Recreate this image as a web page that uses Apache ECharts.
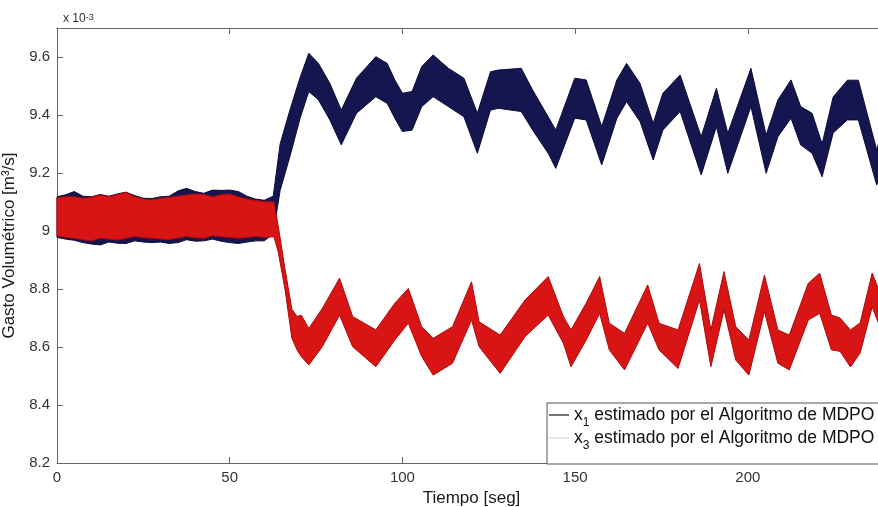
<!DOCTYPE html>
<html>
<head>
<meta charset="utf-8">
<script src="https://cdn.jsdelivr.net/npm/echarts@6/dist/echarts.min.js"></script>
<style>html,body{margin:0;padding:0;background:#fff}#c{width:878px;height:507px}</style>
</head>
<body>
<div id="c"></div>
<script>
// ---- data (values in units of 1e-3 m^3/s, time in seconds) ----
const xTicks = [0, 50, 100, 150, 200];
const yTicks = [8.2, 8.4, 8.6, 8.8, 9.0, 9.2, 9.4, 9.6];

// x1 (blue) band: upper and lower envelope
const x1Time = [0,2.5,5,7.5,10,12.5,15,17.5,20,22.5,25,27.5,30,32.5,35,37.5,40,42.5,45,47.5,50,52.5,55,57.5,60,
  62.6,64.6,67.5,70.4,72.9,75.7,79.0,82.3,86.7,92.3,95.6,97.8,100.0,102.8,105.6,108.9,113.3,117.8,121.7,125.5,127.8,
  134.4,137.7,142.2,144.4,149.9,153.2,157.7,162.1,164.9,168.8,172.6,175.4,180.4,186.5,190.9,194.2,200.9,205.3,208.7,
  212.5,215.3,218.6,221.5,224.7,228.8,232.0,237.3,237.8];
const x1Upper = [9.118,9.125,9.136,9.120,9.118,9.126,9.120,9.128,9.134,9.122,9.113,9.112,9.118,9.120,9.138,9.147,9.136,9.130,9.141,9.140,9.141,9.136,9.120,9.110,9.106,
  9.12,9.30,9.42,9.53,9.613,9.578,9.509,9.417,9.527,9.601,9.578,9.521,9.475,9.481,9.567,9.607,9.561,9.527,9.406,9.549,9.555,
  9.561,9.486,9.394,9.348,9.527,9.521,9.360,9.521,9.578,9.509,9.371,9.475,9.538,9.325,9.492,9.337,9.561,9.331,9.452,
  9.521,9.429,9.406,9.30,9.462,9.52,9.52,9.28,9.30];
const x1Lower = [8.978,8.972,8.968,8.960,8.955,8.952,8.962,8.958,8.957,8.966,8.962,8.960,8.962,8.957,8.960,8.970,8.965,8.966,8.972,8.965,8.960,8.957,8.962,8.966,8.966,
  8.99,9.14,9.26,9.39,9.481,9.452,9.383,9.297,9.406,9.463,9.440,9.389,9.343,9.348,9.429,9.463,9.429,9.394,9.268,9.417,9.423,
  9.412,9.348,9.268,9.216,9.389,9.383,9.228,9.389,9.446,9.377,9.245,9.348,9.412,9.193,9.360,9.199,9.429,9.199,9.325,
  9.389,9.297,9.268,9.187,9.338,9.383,9.383,9.159,9.17];

// x3 (red) band: upper and lower envelope
const x3Time = [0,2.5,5,7.5,10,12.5,15,17.5,20,22.5,25,27.5,30,32.5,35,37.5,40,42.5,45,47.5,50,52.5,55,57.5,60,
  62.8,64.0,66.0,68.0,69.5,70.7,72.9,76.8,81.8,85.6,92.3,97.8,101.7,105.6,108.9,114.5,120.0,122.2,128.3,135.5,
  142.2,146.6,148.8,153.2,157.1,159.9,164.3,171.0,174.3,179.8,186.0,189.3,193.1,196.5,200.3,204.8,208.7,212.0,
  217.5,220.8,224.2,226.7,229.7,232.5,236.0,237.8];
const x3Upper = [9.115,9.118,9.118,9.113,9.116,9.124,9.118,9.126,9.133,9.118,9.110,9.107,9.113,9.116,9.120,9.124,9.128,9.126,9.118,9.125,9.128,9.118,9.110,9.105,9.101,
  9.10,9.02,8.87,8.73,8.705,8.710,8.664,8.733,8.837,8.705,8.659,8.751,8.802,8.670,8.630,8.670,8.825,8.687,8.641,8.762,
  8.843,8.705,8.659,8.751,8.843,8.682,8.647,8.814,8.682,8.659,8.888,8.659,8.860,8.670,8.624,8.848,8.659,8.641,
  8.820,8.854,8.71,8.70,8.659,8.683,8.855,8.80];
const x3Lower = [8.984,8.978,8.975,8.970,8.966,8.975,8.972,8.969,8.975,8.981,8.977,8.975,8.972,8.970,8.976,8.981,8.977,8.975,8.984,8.980,8.978,8.975,8.978,8.981,8.978,
  8.98,8.93,8.80,8.63,8.59,8.567,8.538,8.601,8.710,8.601,8.532,8.624,8.682,8.567,8.503,8.544,8.693,8.601,8.509,8.636,
  8.710,8.613,8.532,8.624,8.716,8.590,8.521,8.682,8.590,8.526,8.762,8.532,8.728,8.555,8.503,8.722,8.544,8.521,
  8.693,8.716,8.59,8.585,8.531,8.579,8.738,8.683];

const seriesNames = ['x1', 'x3'];
const legendText = ['estimado por el Algoritmo de MDPO', 'estimado por el Algoritmo de MDPO'];
const subscripts = ['1', '3'];

// ---- chart ----
const FONT = '"Liberation Sans", Arial, Helvetica, sans-serif';
const BLUE = '#15154f', BLUE_EDGE = '#0c0c3c';
const RED = '#d81414', RED_EDGE = '#b00a0a';
const AXIS = '#666666';

// A filled band between lower and upper envelopes, drawn through the axis scales (api.coord).
function bandSeries(name, times, upper, lower, fill, edge, z) {
  const rows = times.map((t, i) => [t, lower[i], upper[i]]);
  return {
    name: name, type: 'custom', coordinateSystem: 'cartesian2d', silent: true, z: z,
    data: rows,
    encode: { x: 0, y: [1, 2] },
    itemStyle: { color: fill },
    renderItem: function (params, api) {
      if (params.dataIndex !== 0) return null;
      const pts = [];
      for (let i = 0; i < rows.length; i++) pts.push(api.coord([rows[i][0], rows[i][2]]));
      for (let i = rows.length - 1; i >= 0; i--) pts.push(api.coord([rows[i][0], rows[i][1]]));
      return {
        type: 'polygon',
        shape: { points: pts },
        style: { fill: fill, stroke: edge, lineWidth: 1, lineJoin: 'round' }
      };
    }
  };
}

const axisCommon = {
  type: 'value',
  axisLine: { show: true, onZero: false, lineStyle: { color: AXIS, width: 1 } },
  splitLine: { show: false }
};

const chart = echarts.init(document.getElementById('c'), null, { renderer: 'canvas' });
chart.setOption({
  backgroundColor: '#ffffff',
  animation: false,
  title: {
    text: 'x 10{sup|-3}', left: 58, top: 8,
    textStyle: { fontSize: 12, fontWeight: 'normal', color: '#333', fontFamily: FONT,
      rich: { sup: { fontSize: 9, verticalAlign: 'top', color: '#333', fontFamily: FONT } } }
  },
  grid: { left: 57, top: 28, right: -8, bottom: 44, containLabel: false, outerBoundsMode: 'none' },
  xAxis: [
    Object.assign({}, axisCommon, {
      min: 0, max: 240, position: 'bottom',
      name: 'Tiempo [seg]', nameLocation: 'middle', nameGap: 22,
      nameTextStyle: { fontSize: 17, color: '#1a1a1a', fontFamily: FONT },
      axisTick: { show: true, inside: true, length: 6, customValues: xTicks, lineStyle: { color: AXIS } },
      axisLabel: { customValues: xTicks, fontSize: 15, color: '#333', margin: 7, fontFamily: FONT }
    }),
    Object.assign({}, axisCommon, {
      min: 0, max: 240, position: 'top',
      axisTick: { show: true, inside: true, length: 6, customValues: xTicks, lineStyle: { color: AXIS } },
      axisLabel: { show: false }
    })
  ],
  yAxis: [
    Object.assign({}, axisCommon, {
      min: 8.2, max: 9.7, position: 'left',
      name: 'Gasto Volumétrico [m³/s]', nameLocation: 'middle', nameGap: 32, nameRotate: 90,
      nameTextStyle: { fontSize: 17, color: '#1a1a1a', fontFamily: FONT },
      axisTick: { show: true, inside: true, length: 6, customValues: yTicks, lineStyle: { color: AXIS } },
      axisLabel: { customValues: yTicks, fontSize: 15, color: '#333', margin: 7, fontFamily: FONT,
        formatter: v => String(parseFloat(Number(v).toFixed(1))) }
    }),
    Object.assign({}, axisCommon, {
      min: 8.2, max: 9.7, position: 'right',
      axisTick: { show: true, inside: true, length: 6, customValues: yTicks, lineStyle: { color: AXIS } },
      axisLabel: { show: false }
    })
  ],
  legend: {
    orient: 'vertical', left: 547, top: 403,
    padding: [3, 14, 12, 2], itemGap: 0,
    backgroundColor: '#ffffff', borderColor: '#555', borderWidth: 1, borderRadius: 0,
    itemWidth: 20, itemHeight: 1.5,
    itemStyle: { borderWidth: 0 },
    data: [
      { name: seriesNames[0], icon: 'rect', itemStyle: { color: '#444' } },
      { name: seriesNames[1], icon: 'rect', itemStyle: { color: '#dddddd' } }
    ],
    formatter: function (name) {
      const i = seriesNames.indexOf(name);
      return '{m|x}{s|' + subscripts[i] + '}{m| ' + legendText[i] + '}';
    },
    textStyle: {
      color: '#111', fontFamily: FONT, fontSize: 17.5,
      rich: {
        m: { fontSize: 17.5, lineHeight: 28, color: '#111', fontFamily: FONT },
        s: { fontSize: 12, lineHeight: 10, verticalAlign: 'bottom', color: '#111', fontFamily: FONT }
      }
    }
  },
  series: [
    bandSeries(seriesNames[0], x1Time, x1Upper, x1Lower, BLUE, BLUE_EDGE, 2),
    bandSeries(seriesNames[1], x3Time, x3Upper, x3Lower, RED, RED_EDGE, 3)
  ]
});
</script>
</body>
</html>
